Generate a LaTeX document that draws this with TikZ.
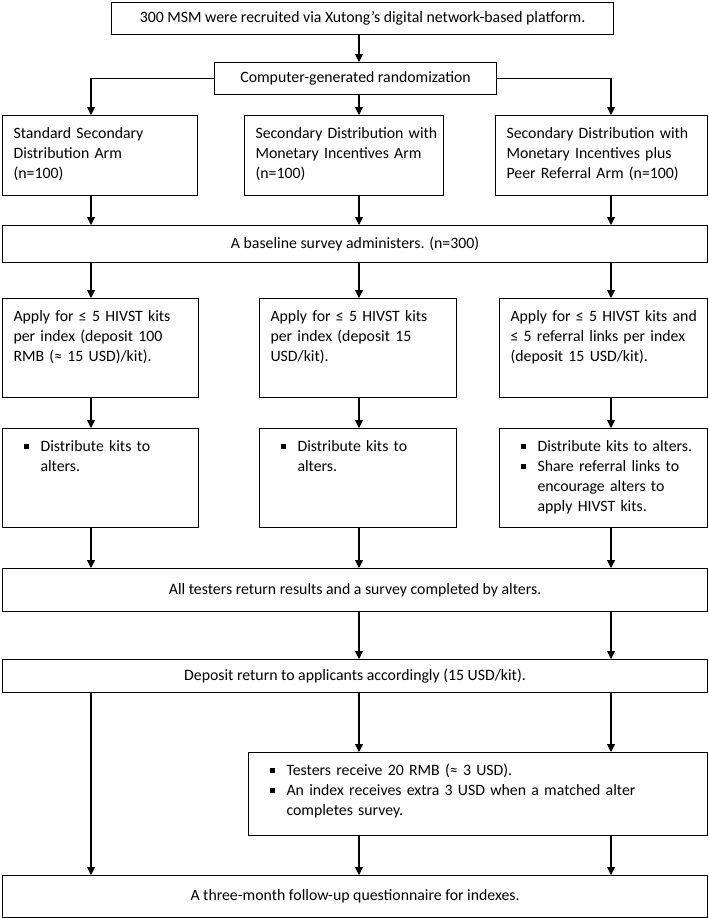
\documentclass[tikz,border=0pt]{standalone}
\usepackage{fontspec}
\setmainfont{Carlito}
\usetikzlibrary{arrows.meta,positioning}

\tikzstyle{cbox} = [rectangle, draw = black, line width = 1.1pt, anchor = north west, align = center, inner sep = 0pt]
\tikzstyle{lbox} = [rectangle, draw = black, line width = 1.1pt, anchor = north west, inner xsep = 2pt, inner ysep = 0pt, text height = 23pt, execute at begin node = {\setlength{\leftskip}{9pt}\setlength{\lineskip}{0pt}}]
\tikzstyle{arrow} = [line width = 1.1pt, -{Triangle[length=8pt, width=8pt]}, draw = black]
\tikzstyle{line} = [line width = 1.1pt, -, draw = black]

% bullet item with hanging lines
\newcommand{\bitem}[1]{\makebox[27pt][l]{\hspace{10pt}\rule[2.5pt]{5pt}{5pt}}\parbox[t]{\dimexpr\linewidth-40pt\relax}{\strut #1\strut}}

\begin{document}
\begin{tikzpicture}[x = 1pt, y = -1pt, font = \fontsize{15.8pt}{20pt}\selectfont]
    \useasboundingbox (0,0) rectangle (709,918);
    \coordinate (colL) at (91,0);
    \coordinate (colM) at (359,0);
    \coordinate (colR) at (611,0);

    \node(recruit)[cbox, minimum width = 502pt, minimum height = 32pt] at (111,2) {300 MSM were recruited via Xutong’s digital network-based platform.};
    \node(random)[cbox, minimum width = 282pt, minimum height = 32pt] at (214,62) {Computer-generated randomization};

    % three arms
    \node(arm1)[lbox, text width = 191pt, text depth = 57pt] at (2,115) {Standard Secondary\\Distribution Arm\\(n=100)};
    \node(arm2)[lbox, text width = 195pt, text depth = 57pt] at (244,115) {Secondary Distribution with\\Monetary Incentives Arm\\(n=100)};
    \node(arm3)[lbox, text width = 208pt, text depth = 57pt] at (495,115) {Secondary Distribution with\\Monetary Incentives plus\\Peer Referral Arm (n=100)};
    \node(baseline)[cbox, minimum width = 705pt, minimum height = 37pt] at (2,225) {A baseline survey administers. (n=300)};

    % applications
    \node(apply1)[lbox, text width = 192pt, text depth = 76pt] at (2,298) {Apply for ≤ 5 HIVST kits\\per index (deposit 100\\RMB (≈ 15 USD)/kit).};
    \node(apply2)[lbox, text width = 193pt, text depth = 76pt] at (259,298) {Apply for ≤ 5 HIVST kits\\per index (deposit 15\\USD/kit).};
    \node(apply3)[lbox, text width = 204pt, text depth = 76pt] at (499,298) {Apply for ≤ 5 HIVST kits and\\≤ 5 referral links per index\\(deposit 15 USD/kit).};

    % distribution
    \node(dist1)[lbox, text width = 192pt, text depth = 76pt] at (2,428) {\bitem{Distribute kits to\\alters.}};
    \node(dist2)[lbox, text width = 193pt, text depth = 76pt] at (259,428) {\bitem{Distribute kits to\\alters.}};
    \node(dist3)[lbox, text width = 204pt, text depth = 76pt] at (499,428) {\bitem{Distribute kits to alters.}\\\bitem{Share referral links to\\encourage alters to\\apply HIVST kits.}};

    \node(testers)[cbox, minimum width = 705pt, minimum height = 43pt] at (2,568) {All testers return results and a survey completed by alters.};
    \node(deposit)[cbox, minimum width = 705pt, minimum height = 33pt] at (2,659) {Deposit return to applicants accordingly (15 USD/kit).};
    \node(reward)[lbox, text width = 455pt, text depth = 60pt] at (248,752) {\bitem{Testers receive 20 RMB (≈ 3 USD).}\\\bitem{An index receives extra 3 USD when a matched alter\\completes survey.}};
    \node(followup)[cbox, minimum width = 705pt, minimum height = 42pt] at (2,875) {A three-month follow-up questionnaire for indexes.};

    \draw[arrow] (recruit.south -| colM) -- (random.north -| colM);
    \draw[arrow] (random.west) -| (arm1.north -| colL);
    \draw[arrow] (random.south -| colM) -- (arm2.north -| colM);
    \draw[arrow] (random.east) -| (arm3.north -| colR);
    \draw[arrow] (arm1.south -| colL) -- (baseline.north -| colL);
    \draw[arrow] (arm2.south -| colM) -- (baseline.north -| colM);
    \draw[arrow] (arm3.south -| colR) -- (baseline.north -| colR);
    \draw[arrow] (baseline.south -| colL) -- (apply1.north -| colL);
    \draw[arrow] (baseline.south -| colM) -- (apply2.north -| colM);
    \draw[arrow] (baseline.south -| colR) -- (apply3.north -| colR);
    \draw[arrow] (apply1.south -| colL) -- (dist1.north -| colL);
    \draw[arrow] (apply2.south -| colM) -- (dist2.north -| colM);
    \draw[arrow] (apply3.south -| colR) -- (dist3.north -| colR);
    \draw[arrow] (dist1.south -| colL) -- (testers.north -| colL);
    \draw[arrow] (dist2.south -| colM) -- (testers.north -| colM);
    \draw[arrow] (dist3.south -| colR) -- (testers.north -| colR);
    \draw[arrow] (testers.south -| colM) -- (deposit.north -| colM);
    \draw[arrow] (testers.south -| colR) -- (deposit.north -| colR);
    \draw[arrow] (deposit.south -| colL) -- (followup.north -| colL);
    \draw[arrow] (deposit.south -| colM) -- (reward.north -| colM);
    \draw[arrow] (deposit.south -| colR) -- (reward.north -| colR);
    \draw[arrow] (reward.south -| colM) -- (followup.north -| colM);
    \draw[arrow] (reward.south -| colR) -- (followup.north -| colR);
\end{tikzpicture}
\end{document}
